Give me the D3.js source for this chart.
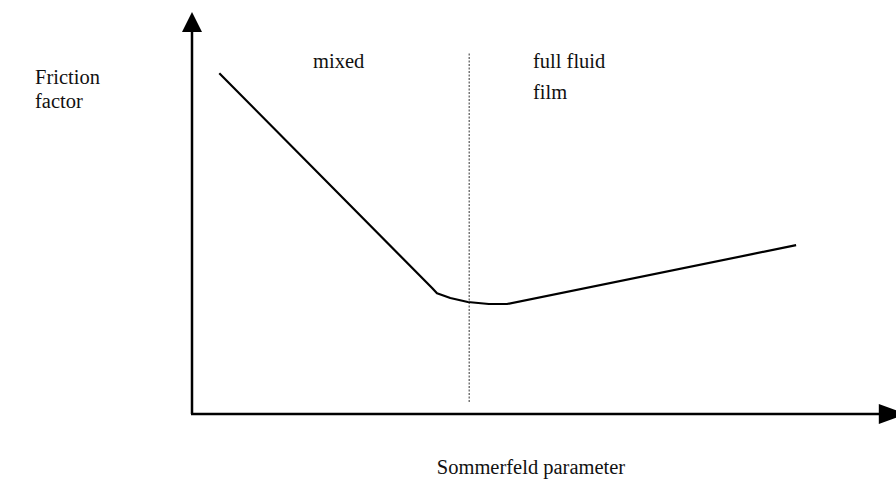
<!DOCTYPE html>
<html>
<head>
<meta charset="UTF-8">
<script src="https://cdn.jsdelivr.net/npm/d3@7"></script>
<style>
  body { margin: 0; background: #fff; }
  text { font-family: "Liberation Serif", "Times New Roman", serif; font-size: 20.5px; fill: #111; }
</style>
</head>
<body>
<div id="chart"></div>
<script>
// curve of friction factor vs Sommerfeld parameter (arbitrary units 0-100)
var curveX = [3.9, 34.3, 35.0, 36.9, 39.4, 42.4, 45.0, 86.3];
var curveY = [85.2, 31.5, 30.2, 29.0, 28.0, 27.5, 27.5, 42.2];
// regime boundary
var boundaryX = 39.6;
var boundaryY = [3, 90.2];
var regimeLabels = ["mixed", "full fluid", "film"];
var yTitle = ["Friction", "factor"];
var xTitle = "Sommerfeld parameter";

var width = 896, height = 488;
var x = d3.scaleLinear().domain([0, 100]).range([192, 892]);
var y = d3.scaleLinear().domain([0, 100]).range([414, 14]);

var svg = d3.select("#chart").append("svg")
    .attr("width", width)
    .attr("height", height);

// axes as plain lines with arrow heads
svg.append("line")
    .attr("x1", x(0)).attr("y1", y(0))
    .attr("x2", x(0)).attr("y2", y(96))
    .attr("stroke", "#000").attr("stroke-width", 2.5);
svg.append("line")
    .attr("x1", x(0) - 1).attr("y1", y(0))
    .attr("x2", x(99)).attr("y2", y(0))
    .attr("stroke", "#000").attr("stroke-width", 2.5);

// up arrow
svg.append("path")
    .attr("d", "M" + x(0) + "," + (y(100) - 2) + "L" + (x(0) - 10) + "," + (y(95) - 2) + "L" + (x(0) + 10) + "," + (y(95) - 2) + "Z")
    .attr("fill", "#000");
// right arrow
svg.append("path")
    .attr("d", "M" + (x(100) + 14) + "," + y(0) + "L" + (x(98.4) - 2) + "," + (y(0) - 10) + "L" + (x(98.4) - 2) + "," + (y(0) + 10) + "Z")
    .attr("fill", "#000");

// dotted boundary
svg.append("line")
    .attr("x1", x(boundaryX)).attr("y1", y(boundaryY[0]))
    .attr("x2", x(boundaryX)).attr("y2", y(boundaryY[1]))
    .attr("stroke", "#555").attr("stroke-width", 1.2)
    .attr("stroke-dasharray", "2,1.5");

// curve
var line = d3.line()
    .x(function (d, i) { return x(curveX[i]); })
    .y(function (d) { return y(d); });
svg.append("path")
    .attr("d", line(curveY))
    .attr("fill", "none")
    .attr("stroke", "#000")
    .attr("stroke-width", 2.2)
    .attr("stroke-linejoin", "round");

// labels
svg.append("text").attr("x", 313).attr("y", 68).text(regimeLabels[0]);
svg.append("text").attr("x", 533).attr("y", 68).text(regimeLabels[1]);
svg.append("text").attr("x", 533).attr("y", 99).text(regimeLabels[2]);

svg.append("text").attr("x", 35).attr("y", 84).text(yTitle[0]);
svg.append("text").attr("x", 35).attr("y", 108).text(yTitle[1]);

svg.append("text").attr("x", 531).attr("y", 474)
    .attr("text-anchor", "middle").text(xTitle);
</script>
</body>
</html>
